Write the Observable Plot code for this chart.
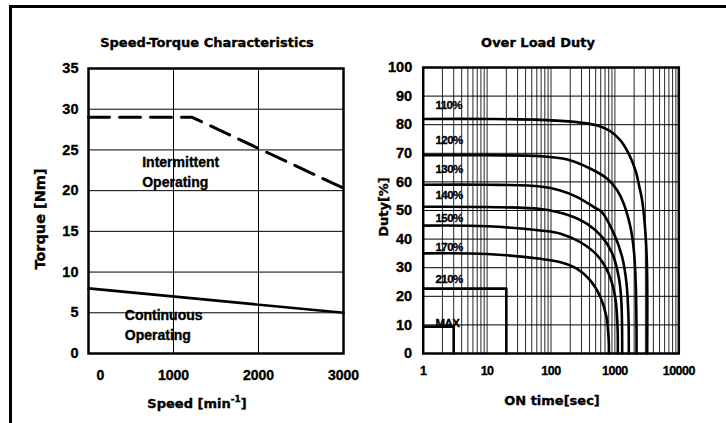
<!DOCTYPE html>
<html><head><meta charset="utf-8">
<script src="https://cdn.jsdelivr.net/npm/d3@7"></script>
<script src="https://cdn.jsdelivr.net/npm/@observablehq/plot@0.6"></script>
<style>
html,body{margin:0;padding:0;background:#fff;}
#wrap{position:relative;width:726px;height:423px;overflow:hidden;background:#fff;}
#border{position:absolute;left:9px;top:5px;width:800px;height:500px;border-top:3px solid #000;border-left:3px solid #000;}
.lbl{position:absolute;white-space:nowrap;font-family:"DejaVu Sans",sans-serif;font-weight:bold;font-size:13px;color:#000;line-height:1;-webkit-text-stroke:0.35px #000;}
.plot{position:absolute;top:0;}
#wrap svg text{stroke:#000;stroke-width:0.35px;}
sup{font-size:9px;position:relative;top:-1px;}
</style></head><body>
<div id="wrap">
<div id="border"></div>
<div id="left" class="plot" style="left:0px"></div>
<div id="right" class="plot" style="left:360px"></div>
<div class="lbl" style="left:207px;top:42px;transform:translate(-50%,-50%)">Speed-Torque Characteristics</div>
<div class="lbl" style="left:538px;top:42px;transform:translate(-50%,-50%)">Over Load Duty</div>
<div class="lbl" style="left:40px;top:219px;font-size:14.5px;transform:translate(-50%,-50%) rotate(-90deg)">Torque [Nm]</div>
<div class="lbl" style="left:197px;top:403px;transform:translate(-50%,-50%)">Speed [min<sup>-1</sup>]</div>
<div class="lbl" style="left:383px;top:207px;transform:translate(-50%,-50%) rotate(-90deg)">Duty[%]</div>
<div class="lbl" style="left:552px;top:400px;transform:translate(-50%,-50%)">ON time[sec]</div>
</div>
<script>
// ---- Speed-Torque data ----
const torqueTicks = [0, 5, 10, 15, 20, 25, 30, 35];
const speedTicks = [0, 1000, 2000, 3000];
const contSpeed = [0, 3000];
const contTorque = [8, 5];
const intSpeed = [0, 1220, 3000];
const intTorque = [29, 29, 20.3];

// ---- Over Load Duty data ----
const dutyTicks = [0, 10, 20, 30, 40, 50, 60, 70, 80, 90, 100];
const timeTicks = [1, 10, 100, 1000, 10000];
const timeGrid = [1,2,3,4,5,6,7,8,9,10,20,30,40,50,60,70,80,90,100,200,300,400,500,600,700,800,900,1000,2000,3000,4000,5000,6000,7000,8000,9000,10000];
const seriesNames = ["110%", "120%", "130%", "140%", "150%", "170%", "210%", "MAX"];
const t110 = [1, 10, 70, 230, 530, 850, 1220, 1650, 2100, 2430, 2670, 3010, 3180, 3200];
const d110 = [82, 82, 81.7, 81, 79.7, 77.7, 74.5, 69.8, 64, 58, 53.5, 42, 30, 0];
const t120 = [1, 10, 68, 180, 415, 760, 1090, 1380, 1750, 1980, 2120, 2180, 2180];
const d120 = [69.3, 69.3, 69, 67.8, 64.6, 61.1, 57, 52.3, 44.2, 36, 24.5, 7, 0];
const t130 = [1, 10, 68, 140, 257, 470, 620, 960, 1300, 1520, 1630, 1650];
const d130 = [59, 59, 58.4, 57, 54.7, 51.2, 49.5, 42, 33.7, 24.5, 12.7, 0];
const t140 = [1, 10, 68, 180, 367, 634, 910, 1150, 1260, 1300];
const d140 = [51.3, 51.2, 50.5, 48.5, 45.3, 40.7, 35, 26.7, 18.5, 0];
const t150 = [1, 10, 68, 141, 289, 530, 800, 1010, 1100, 1110];
const d150 = [44.7, 44.5, 43, 41.9, 38.9, 34.3, 27.9, 19.7, 9.2, 0];
const t170 = [1, 10, 68, 141, 257, 415, 595, 740, 800, 805];
const d170 = [35, 34.8, 33.1, 31.9, 29.6, 25.5, 19.7, 12.7, 4.5, 0];
const t210 = [1, 20, 20];
const d210 = [22.7, 22.7, 0];
const tMax = [1, 3, 3];
const dMax = [9.4, 9.4, 0];
const labelDuty = [86.7, 74.5, 64.3, 55.2, 47.2, 37, 25.9, 10.5];

const smoothSeries = [[t110, d110], [t120, d120], [t130, d130], [t140, d140], [t150, d150], [t170, d170]];
const stepSeries = [[t210, d210], [tMax, dMax]];
const toRows = (list, offset) => list.flatMap(([ts, ds], i) => ts.map((t, j) => ({series: seriesNames[i + offset], t, d: ds[j]})));
const smoothRows = toRows(smoothSeries, 0);
const stepRows = toRows(stepSeries, 6);
const labelRows = seriesNames.map((name, i) => ({name, d: labelDuty[i]}));

const tickFont = "'Liberation Sans', Arial, sans-serif";

const contRows = contSpeed.map((s, i) => ({s, v: contTorque[i]}));
const intRows = intSpeed.map((s, i) => ({s, v: intTorque[i]}));

const left = Plot.plot({
  width: 370, height: 423,
  marginLeft: 88, marginRight: 27, marginTop: 68, marginBottom: 70,
  x: {domain: [0, 3000]},
  y: {domain: [0, 35]},
  style: {background: "transparent", fontFamily: tickFont, fontWeight: "bold", color: "#000", overflow: "visible"},
  marks: [
    Plot.gridY(torqueTicks, {stroke: "#000", strokeOpacity: 1, strokeWidth: 1}),
    Plot.gridX(speedTicks.slice(1, 3), {stroke: "#000", strokeOpacity: 1, strokeWidth: 1}),
    Plot.axisY(torqueTicks, {tickSize: 0, tickPadding: 10, label: null, fontSize: 14.5, fontFamily: tickFont, fontWeight: "bold"}),
    Plot.axisX(speedTicks.slice(1), {tickSize: 0, tickPadding: 17, label: null, fontSize: 14, fontFamily: tickFont, fontWeight: "bold", tickFormat: d => String(d)}),
    Plot.axisX([speedTicks[0]], {tickSize: 0, tickPadding: 17, dx: 12, label: null, fontSize: 14, fontFamily: tickFont, fontWeight: "bold", tickFormat: d => String(d)}),
    Plot.line(contRows, {x: "s", y: "v", stroke: "#000", strokeWidth: 2.6}),
    Plot.line(intRows, {x: "s", y: "v", stroke: "#000", strokeWidth: 3, strokeDasharray: "21,10"}),
    Plot.text(["Intermittent\nOperating"], {x: 632, y: 22.5, text: d => d, textAnchor: "start", lineHeight: 1.45, fontSize: 14, fontFamily: tickFont, fontWeight: "bold", fill: "#000"}),
    Plot.text(["Continuous\nOperating"], {x: 427, y: 3.7, text: d => d, textAnchor: "start", lineHeight: 1.45, fontSize: 14, fontFamily: tickFont, fontWeight: "bold", fill: "#000"}),
    Plot.frame({stroke: "#000", strokeWidth: 2.5})
  ]
});
document.getElementById("left").appendChild(left);

const right = Plot.plot({
  width: 366, height: 423,
  marginLeft: 62.7, marginRight: 47.7, marginTop: 67, marginBottom: 70,
  x: {type: "log", domain: [1, 10000]},
  y: {domain: [0, 100]},
  style: {background: "transparent", fontFamily: tickFont, fontWeight: "bold", color: "#000", overflow: "visible"},
  marks: [
    Plot.gridX(timeGrid, {stroke: "#000", strokeOpacity: 0.85, strokeWidth: 1}),
    Plot.gridY(dutyTicks, {stroke: "#000", strokeOpacity: 1, strokeWidth: 1}),
    Plot.axisY(dutyTicks, {tickSize: 0, tickPadding: 11, label: null, fontSize: 14.5, fontFamily: tickFont, fontWeight: "bold"}),
    Plot.axisX(timeTicks, {tickSize: 0, tickPadding: 13, label: null, fontSize: 12.5, fontFamily: tickFont, fontWeight: "bold", tickFormat: d => String(d)}),
    Plot.line(smoothRows, {x: "t", y: "d", z: "series", curve: "catmull-rom", stroke: "#000", strokeWidth: 2.6}),
    Plot.line(stepRows, {x: "t", y: "d", z: "series", stroke: "#000", strokeWidth: 2.6}),
    Plot.text(labelRows, {x: 1.56, y: "d", text: "name", textAnchor: "start", fontSize: 11.5, fontFamily: tickFont, fontWeight: "bold", fill: "#000"}),
    Plot.frame({stroke: "#000", strokeWidth: 2.5})
  ]
});
document.getElementById("right").appendChild(right);
d3.select(right).selectAll('g[aria-label="x-axis tick label"] text').style("letter-spacing", "-0.5px");
d3.select(right).selectAll('g[aria-label="text"] text').style("letter-spacing", "-0.6px");
</script>
</body></html>
